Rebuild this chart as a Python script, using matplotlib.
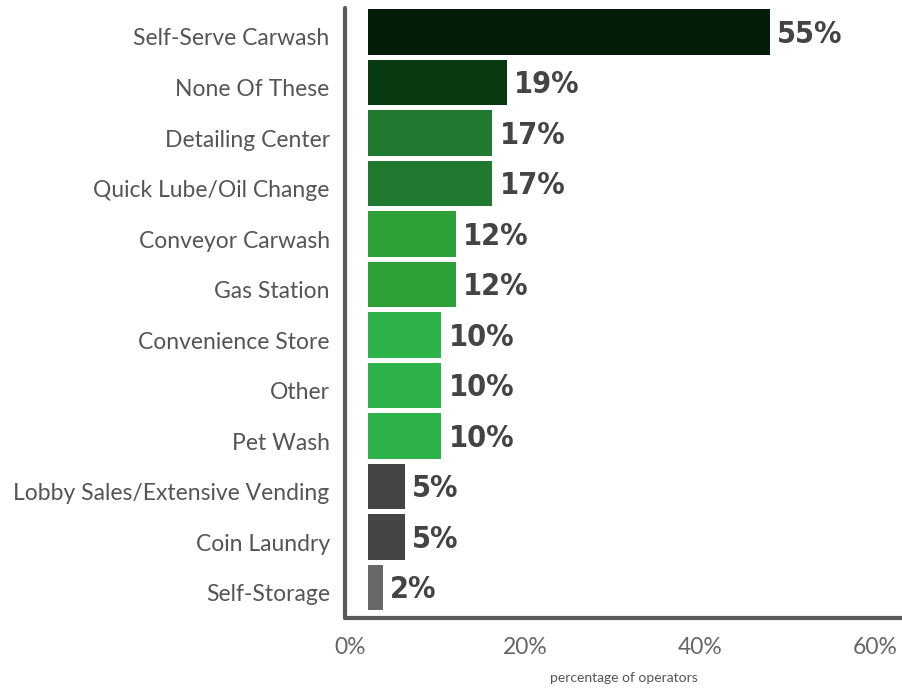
import matplotlib.pyplot as plt
import matplotlib.transforms as mtransforms

# Datos de la encuesta
categorias = ["Self-Serve Carwash", "None Of These", "Detailing Center",
              "Quick Lube/Oil Change", "Conveyor Carwash", "Gas Station",
              "Convenience Store", "Other", "Pet Wash",
              "Lobby Sales/Extensive Vending", "Coin Laundry", "Self-Storage"]
valores = [55, 19, 17, 17, 12, 12, 10, 10, 10, 5, 5, 2]
colores = ["#041c07", "#083a11", "#1f7a2f", "#1f7a2f", "#2f9f37", "#2f9f37",
           "#2eb34b", "#2eb34b", "#2eb34b", "#454545", "#454545", "#686868"]
ticks_x = [0, 20, 40, 60]

fig = plt.figure(figsize=(9.03, 6.88), dpi=100)
W, H = 903, 688
ax = fig.add_axes([345 / W, (H - 618) / H, (W - 345) / W, (618 - 8) / H])

y = list(range(len(categorias)))
ax.barh(y, valores, height=0.9, color=colores)

# Escala de las barras
ppx = 402 / 55
ax.set_xlim(-(368 - 345) / ppx, (903 - 368) / ppx)
ax.set_ylim(11.6, -0.475)

for yi, v in zip(y, valores):
    ax.text(v + 1.0, yi + 0.04, f"{v}%", va="center", ha="left",
            fontsize=22, fontweight="bold", color="#444444",
            family="DejaVu Sans", fontstretch="condensed")

ax.set_yticks(y)
ax.set_yticklabels(categorias, fontsize=16.5, color="#555555", family="Lato")
ax.tick_params(axis="y", length=0, pad=11)
ax.set_xticks([])

# Bajamos un poco los nombres de las categorias
bajar = mtransforms.ScaledTranslation(0, -5 / 100, fig.dpi_scale_trans)
for lab in ax.get_yticklabels():
    lab.set_transform(lab.get_transform() + bajar)

for s in ["top", "right"]:
    ax.spines[s].set_visible(False)
for s in ["left", "bottom"]:
    ax.spines[s].set_linewidth(3)
    ax.spines[s].set_color("#5a5a5a")
    ax.spines[s].set_capstyle("round")

# Eje de porcentajes
ax2 = ax.twiny()
ppx2 = 8.75
ax2.set_xlim(-(350 - 345) / ppx2, (903 - 350) / ppx2)
ax2.xaxis.set_ticks_position("bottom")
ax2.xaxis.set_label_position("bottom")
ax2.set_xticks(ticks_x)
ax2.set_xticklabels([f"{t}%" for t in ticks_x], fontsize=16.5, color="#666666",
                    family="Lato")
ax2.tick_params(axis="x", length=0, pad=14)
for s in ax2.spines.values():
    s.set_visible(False)
ax2.set_xlabel("percentage of operators", fontsize=10, color="#555555",
               family="Lato", labelpad=10)

fig.savefig("out.png", dpi=100)
